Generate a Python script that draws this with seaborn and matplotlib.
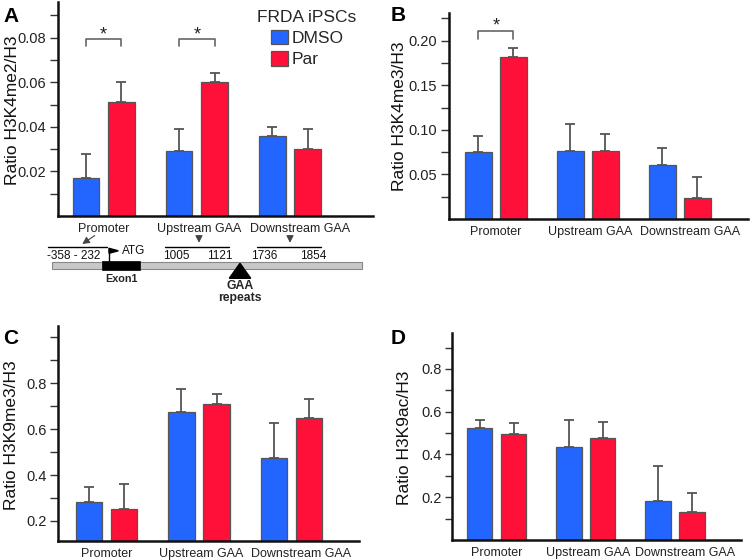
import numpy as np
import pandas as pd
import matplotlib
matplotlib.use("Agg")
import matplotlib.pyplot as plt
import matplotlib.transforms as mtransforms
from matplotlib.patches import Rectangle, Polygon
import seaborn as sns

sns.set_theme(style="white")
plt.rcParams['font.family'] = ['Liberation Sans', 'DejaVu Sans']

regions = ["Promoter", "Upstream GAA", "Downstream GAA"]
treatments = ["DMSO", "Par"]

# Panel A: H3K4me2/H3
a_dmso = [0.017, 0.029, 0.036]
a_dmso_err = [0.011, 0.010, 0.004]
a_par = [0.051, 0.060, 0.030]
a_par_err = [0.009, 0.004, 0.009]

# Panel B: H3K4me3/H3
b_dmso = [0.075, 0.076, 0.061]
b_dmso_err = [0.018, 0.030, 0.019]
b_par = [0.182, 0.076, 0.024]
b_par_err = [0.010, 0.019, 0.023]

# Panel C: H3K9me3/H3
c_dmso = [0.283, 0.673, 0.475]
c_dmso_err = [0.067, 0.100, 0.152]
c_par = [0.254, 0.707, 0.648]
c_par_err = [0.109, 0.046, 0.084]

# Panel D: H3K9ac/H3
d_dmso = [0.526, 0.433, 0.181]
d_dmso_err = [0.034, 0.127, 0.165]
d_par = [0.495, 0.477, 0.132]
d_par_err = [0.053, 0.076, 0.086]

BLUE = "#2266FF"
RED = "#FF1038"
EDGE = "#555555"

W, H = 750, 560
fig = plt.figure(figsize=(7.5, 5.6), dpi=100)


def px_axes(left, top, right, bottom):
    return fig.add_axes([left / W, 1 - bottom / H, (right - left) / W, (bottom - top) / H])


LABEL_SHIFT_PX = [0, 2, 10]


def panel(ax, dmso, dmso_err, par, par_err, ylabel, ylim, xlim, majors, minors,
          fmt, label_xy, legend=False, ticklen=6.0):
    df = pd.DataFrame({
        "region": regions * 2,
        "treatment": ["DMSO"] * 3 + ["Par"] * 3,
        "value": list(dmso) + list(par),
    })
    sns.barplot(data=df, x="region", y="value", hue="treatment",
                order=regions, hue_order=treatments,
                palette=[BLUE, RED], saturation=1, width=0.76, gap=0.25,
                edgecolor=EDGE, linewidth=0.9, errorbar=None,
                legend=legend, ax=ax)
    errs = [dmso_err, par_err]
    bar_conts = list(ax.containers)
    centers = []
    for i, cont in enumerate(bar_conts):
        cs = []
        for j, bar in enumerate(cont):
            x = bar.get_x() + bar.get_width() / 2
            y = bar.get_height()
            cs.append(x)
            ax.errorbar(x, y, yerr=[[0], [errs[i][j]]], fmt="none",
                        ecolor="#555555", elinewidth=1.3, capsize=3.8,
                        capthick=1.3, zorder=1)
        centers.append(cs)
    ax.set_ylim(*ylim)
    ax.set_xlim(*xlim)
    ax.set_yticks(majors)
    ax.set_yticklabels([fmt.format(v) for v in majors], fontsize=10.5, color="#222222")
    ax.set_yticks(minors, minor=True)
    ax.tick_params(axis="y", which="both", direction="out", length=ticklen, width=1.0,
                   color="#333333", left=True, pad=2.5)
    ax.tick_params(axis="x", length=0, pad=5, labelsize=9, labelcolor="#222222")
    for lbl, dx in zip(ax.get_xticklabels(), LABEL_SHIFT_PX):
        lbl.set_transform(lbl.get_transform() +
                          mtransforms.ScaledTranslation(dx / 100, 0, fig.dpi_scale_trans))
    for s in ["top", "right"]:
        ax.spines[s].set_visible(False)
    for s in ["left", "bottom"]:
        ax.spines[s].set_color("#111111")
        ax.spines[s].set_linewidth(1.8)
    ax.set_xlabel("")
    ax.set_ylabel(ylabel, fontsize=12.5, color="#111111")
    ax.yaxis.set_label_coords(*label_xy)
    ax.set_facecolor("none")
    return centers


def bracket(ax, x0, x1, ytop, ybot, ystar):
    ax.plot([x0, x0, x1, x1], [ybot, ytop, ytop, ybot], color="#666666",
            lw=1.2, clip_on=False)
    ax.text((x0 + x1) / 2, ystar, "*", ha="center", va="center",
            fontsize=13, color="#222222")


# Panel A
axA = px_axes(58, 2, 373, 216)
cA = panel(axA, a_dmso, a_dmso_err, a_par, a_par_err, "Ratio H3K4me2/H3",
           (0, 0.096), (-0.49, 2.89), [0.02, 0.04, 0.06, 0.08],
           [0.01, 0.03, 0.05, 0.07, 0.09], "{:.2f}", (-0.121, 0.495), legend=True)
leg = axA.legend(title="FRDA iPSCs", loc="upper center",
                 bbox_to_anchor=(307 / W, 1 - 1 / H), bbox_transform=fig.transFigure,
                 frameon=False, fontsize=12.5, title_fontsize=12.5,
                 handlelength=1.0, handleheight=0.9, handletextpad=0.2,
                 labelspacing=0.3, borderpad=0, alignment="center")
for h in leg.legend_handles:
    h.set_edgecolor(EDGE)
for k in range(2):
    bracket(axA, cA[0][k], cA[1][k], 0.0796, 0.0762, 0.0810)

# Panel B
axB = px_axes(449, 13, 748, 219)
cB = panel(axB, b_dmso, b_dmso_err, b_par, b_par_err, "Ratio H3K4me3/H3",
           (0, 0.231), (-0.51, 2.74), [0.05, 0.10, 0.15, 0.20],
           [0.025, 0.075, 0.125, 0.175, 0.225], "{:.2f}", (-0.140, 0.50))
bracket(axB, cB[0][0], cB[1][0], 0.211, 0.202, 0.2165)

# Panel C
axC = px_axes(58.3, 326, 359, 541)
panel(axC, c_dmso, c_dmso_err, c_par, c_par_err, "Ratio H3K9me3/H3",
      (0.113, 1.048), (-0.52, 2.73), [0.2, 0.4, 0.6, 0.8],
      [0.3, 0.5, 0.7, 0.9, 1.0], "{:.1f}", (-0.130, 0.49))

# Panel D
axD = px_axes(452, 333, 741, 540)
panel(axD, d_dmso, d_dmso_err, d_par, d_par_err, "Ratio H3K9ac/H3",
      (0, 0.968), (-0.5, 2.74), [0.2, 0.4, 0.6, 0.8],
      [0.1, 0.3, 0.5, 0.7, 0.9], "{:.1f}", (-0.138, 0.494), ticklen=5.0)

# Panel letters
for letter, (x, y) in {"A": (3, 7), "B": (391, 6), "C": (3, 329), "D": (391, 329)}.items():
    fig.text(x / W, 1 - y / H, letter, fontsize=15, fontweight="bold",
             ha="left", va="top", color="black")

# Gene diagram (pixel-coordinate overlay)
ov = fig.add_axes([0, 0, 1, 1])
ov.set_xlim(0, W)
ov.set_ylim(H, 0)
ov.axis("off")
ov.patch.set_alpha(0)
ov.add_patch(Rectangle((51.7, 261.7), 310.6, 7.6, fc="#c8c8c8", ec="#888888", lw=0.8))
ov.add_patch(Rectangle((101.7, 261.3), 38.3, 8.3, fc="black", ec="black", lw=0.5))
ov.add_patch(Polygon([(229.3, 278.3), (250.7, 278.3), (240, 263.3)], closed=True,
                     fc="black", ec="black"))
ov.text(240, 286, "GAA", ha="center", va="center", fontsize=8.8, fontweight="bold")
ov.text(240, 297.5, "repeats", ha="center", va="center", fontsize=8.8, fontweight="bold")
ov.text(121, 278.5, "Exon1", ha="center", va="center", fontsize=7.8, fontweight="bold")
for x0, x1 in [(48.3, 107.3), (165, 229.3), (256.7, 320.7)]:
    ov.plot([x0, x1], [246.7, 246.7], color="black", lw=1.0)
arrow_kw = dict(arrowstyle="-|>,head_length=0.35,head_width=0.18", color="#444444", lw=0.8)
ov.annotate("", xy=(80, 245.5), xytext=(97, 234), arrowprops=arrow_kw)
ov.annotate("", xy=(199, 245.5), xytext=(199, 235), arrowprops=arrow_kw)
ov.annotate("", xy=(290, 245.5), xytext=(290, 235), arrowprops=arrow_kw)
for txt, x in [("-358 - 232", 74), ("1005", 176.7), ("1121", 220),
               ("1736", 264.3), ("1854", 313.3)]:
    ov.text(x, 256, txt, ha="center", va="center", fontsize=8.5, color="#111111")
ov.plot([109, 109], [248.3, 261.5], color="black", lw=1.0)
ov.add_patch(Polygon([(109, 248.3), (118.3, 250.8), (109, 253.3)], closed=True,
                     fc="black", ec="black"))
ov.text(121.5, 250.5, "ATG", ha="left", va="center", fontsize=8.5, color="#111111")

fig.savefig("out.png", dpi=100)
